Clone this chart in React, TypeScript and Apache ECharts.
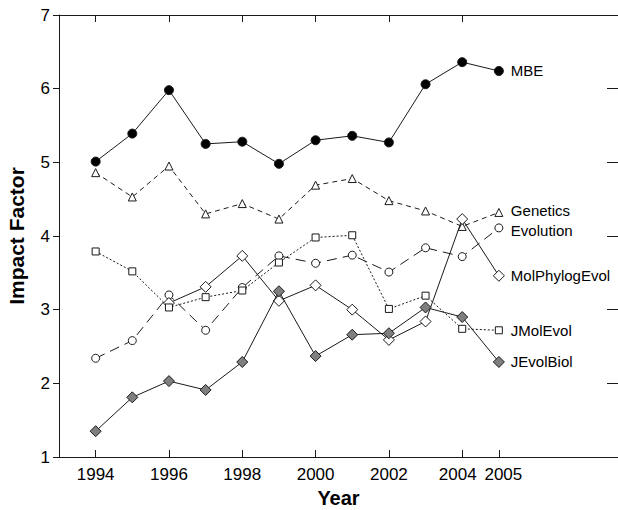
import React, { useEffect, useRef } from "react";
import * as echarts from "echarts";

const years = [1994, 1995, 1996, 1997, 1998, 1999, 2000, 2001, 2002, 2003, 2004, 2005];
const mbe = [5.01, 5.39, 5.98, 5.25, 5.28, 4.98, 5.3, 5.36, 5.27, 6.06, 6.36, 6.24];
const genetics = [4.86, 4.53, 4.95, 4.3, 4.44, 4.23, 4.69, 4.78, 4.48, 4.34, 4.13, 4.32];
const evolution = [2.34, 2.58, 3.2, 2.72, 3.3, 3.73, 3.63, 3.74, 3.51, 3.84, 3.72, 4.11];
const jMolEvol = [3.79, 3.52, 3.03, 3.17, 3.26, 3.64, 3.98, 4.01, 3.01, 3.19, 2.74, 2.72];
const molPhylogEvol = [null, null, 3.09, 3.31, 3.73, 3.12, 3.33, 3.0, 2.59, 2.84, 4.23, 3.46];
const jEvolBiol = [1.35, 1.81, 2.03, 1.91, 2.29, 3.25, 2.37, 2.66, 2.68, 3.03, 2.9, 2.29];

const bottomTickYears = [1994, 1996, 1998, 2000, 2002, 2004, 2005];
const topTickYears = [1994, 1996, 1998, 2000, 2002, 2004];

const FONT = "'Liberation Sans', Arial, Helvetica, sans-serif";
const INK = "#1a1a1a";

function pairs(vals: (number | null)[]) {
  return years.map((y, i) => [y, vals[i] === null ? "-" : vals[i]]);
}

function makeSeries(
  name: string,
  vals: (number | null)[],
  symbol: string,
  symbolSize: number,
  fill: string,
  lineType: any,
  z: number,
  labelDy: number
) {
  return {
    name,
    type: "line",
    data: pairs(vals),
    symbol,
    symbolSize,
    z,
    itemStyle: { color: fill, borderColor: INK, borderWidth: 1 },
    lineStyle: { color: INK, width: 1, type: lineType },
    endLabel: {
      show: true,
      formatter: "{a}",
      distance: 12,
      offset: [0, labelDy],
      color: "#000",
      fontSize: 15,
      fontFamily: FONT,
    },
    emphasis: { disabled: true },
  };
}

export default function App() {
  const ref = useRef<HTMLDivElement>(null);
  useEffect(() => {
    if (!ref.current) return;
    const chart = echarts.init(ref.current, undefined, { renderer: "svg" });
    const axisLine = { show: true, lineStyle: { color: INK, width: 1 } };
    chart.setOption({
      animation: false,
      backgroundColor: "#fff",
      textStyle: { fontFamily: FONT },
      grid: { left: 59, right: 0, top: 15, bottom: 53, containLabel: false, outerBoundsMode: "none" },
      xAxis: [
        {
          type: "value",
          position: "bottom",
          min: 1993,
          max: 2008.25,
          axisLine,
          splitLine: { show: false },
          axisTick: { show: true, inside: true, length: 7, customValues: bottomTickYears, lineStyle: { color: INK } },
          axisLabel: {
            show: true,
            hideOverlap: false,
            customValues: bottomTickYears,
            fontSize: 17,
            color: "#000",
            margin: 9,
            fontFamily: FONT,
            formatter: (v: number) =>
              v === 2004 ? "{l|" + v + "}" : v === 2005 ? "{r|" + v + "}" : String(v),
            rich: {
              l: { fontSize: 17, color: "#000", fontFamily: FONT, padding: [0, 9, 0, 0] },
              r: { fontSize: 17, color: "#000", fontFamily: FONT, padding: [0, 0, 0, 9] },
            },
          },
          name: "Year",
          nameLocation: "middle",
          nameGap: 31,
          nameTextStyle: { fontSize: 20, fontWeight: "bold", color: "#000", fontFamily: FONT },
        },
        {
          type: "value",
          position: "top",
          min: 1993,
          max: 2008.25,
          axisLine,
          splitLine: { show: false },
          axisTick: { show: true, inside: true, length: 7, customValues: topTickYears, lineStyle: { color: INK } },
          axisLabel: { show: false },
        },
      ],
      yAxis: [
        {
          type: "value",
          position: "left",
          min: 1,
          max: 7,
          interval: 1,
          axisLine,
          splitLine: { show: false },
          axisTick: { show: true, inside: false, length: 6, lineStyle: { color: INK } },
          axisLabel: { fontSize: 17, color: "#000", margin: 9, fontFamily: FONT },
          name: "Impact Factor",
          nameLocation: "middle",
          nameGap: 32,
          nameRotate: 90,
          nameTextStyle: { fontSize: 21, fontWeight: "bold", color: "#000", fontFamily: FONT },
        },
        {
          type: "value",
          position: "right",
          min: 1,
          max: 7,
          interval: 1,
          axisLine: { show: false },
          splitLine: { show: false },
          axisTick: { show: true, inside: true, length: 11, lineStyle: { color: INK } },
          axisLabel: { show: false },
        },
      ],
      series: [
        makeSeries("MBE", mbe, "circle", 9, "#000", "solid", 3, 0),
        makeSeries("Genetics", genetics, "triangle", 8, "#fff", [5, 4], 3, -2),
        makeSeries("Evolution", evolution, "circle", 8, "#fff", [10, 6], 3, 3),
        makeSeries("MolPhylogEvol", molPhylogEvol, "diamond", 11, "#fff", "solid", 4, 0),
        makeSeries("JMolEvol", jMolEvol, "rect", 7, "#fff", [2, 2], 5, 0),
        makeSeries("JEvolBiol", jEvolBiol, "diamond", 11, "#7f7f7f", "solid", 6, 0),
      ],
    });
    return () => chart.dispose();
  }, []);
  return (
    <div
      ref={ref}
      style={{ position: "fixed", left: 0, top: 0, width: 618, height: 510, background: "#fff" }}
    />
  );
}
